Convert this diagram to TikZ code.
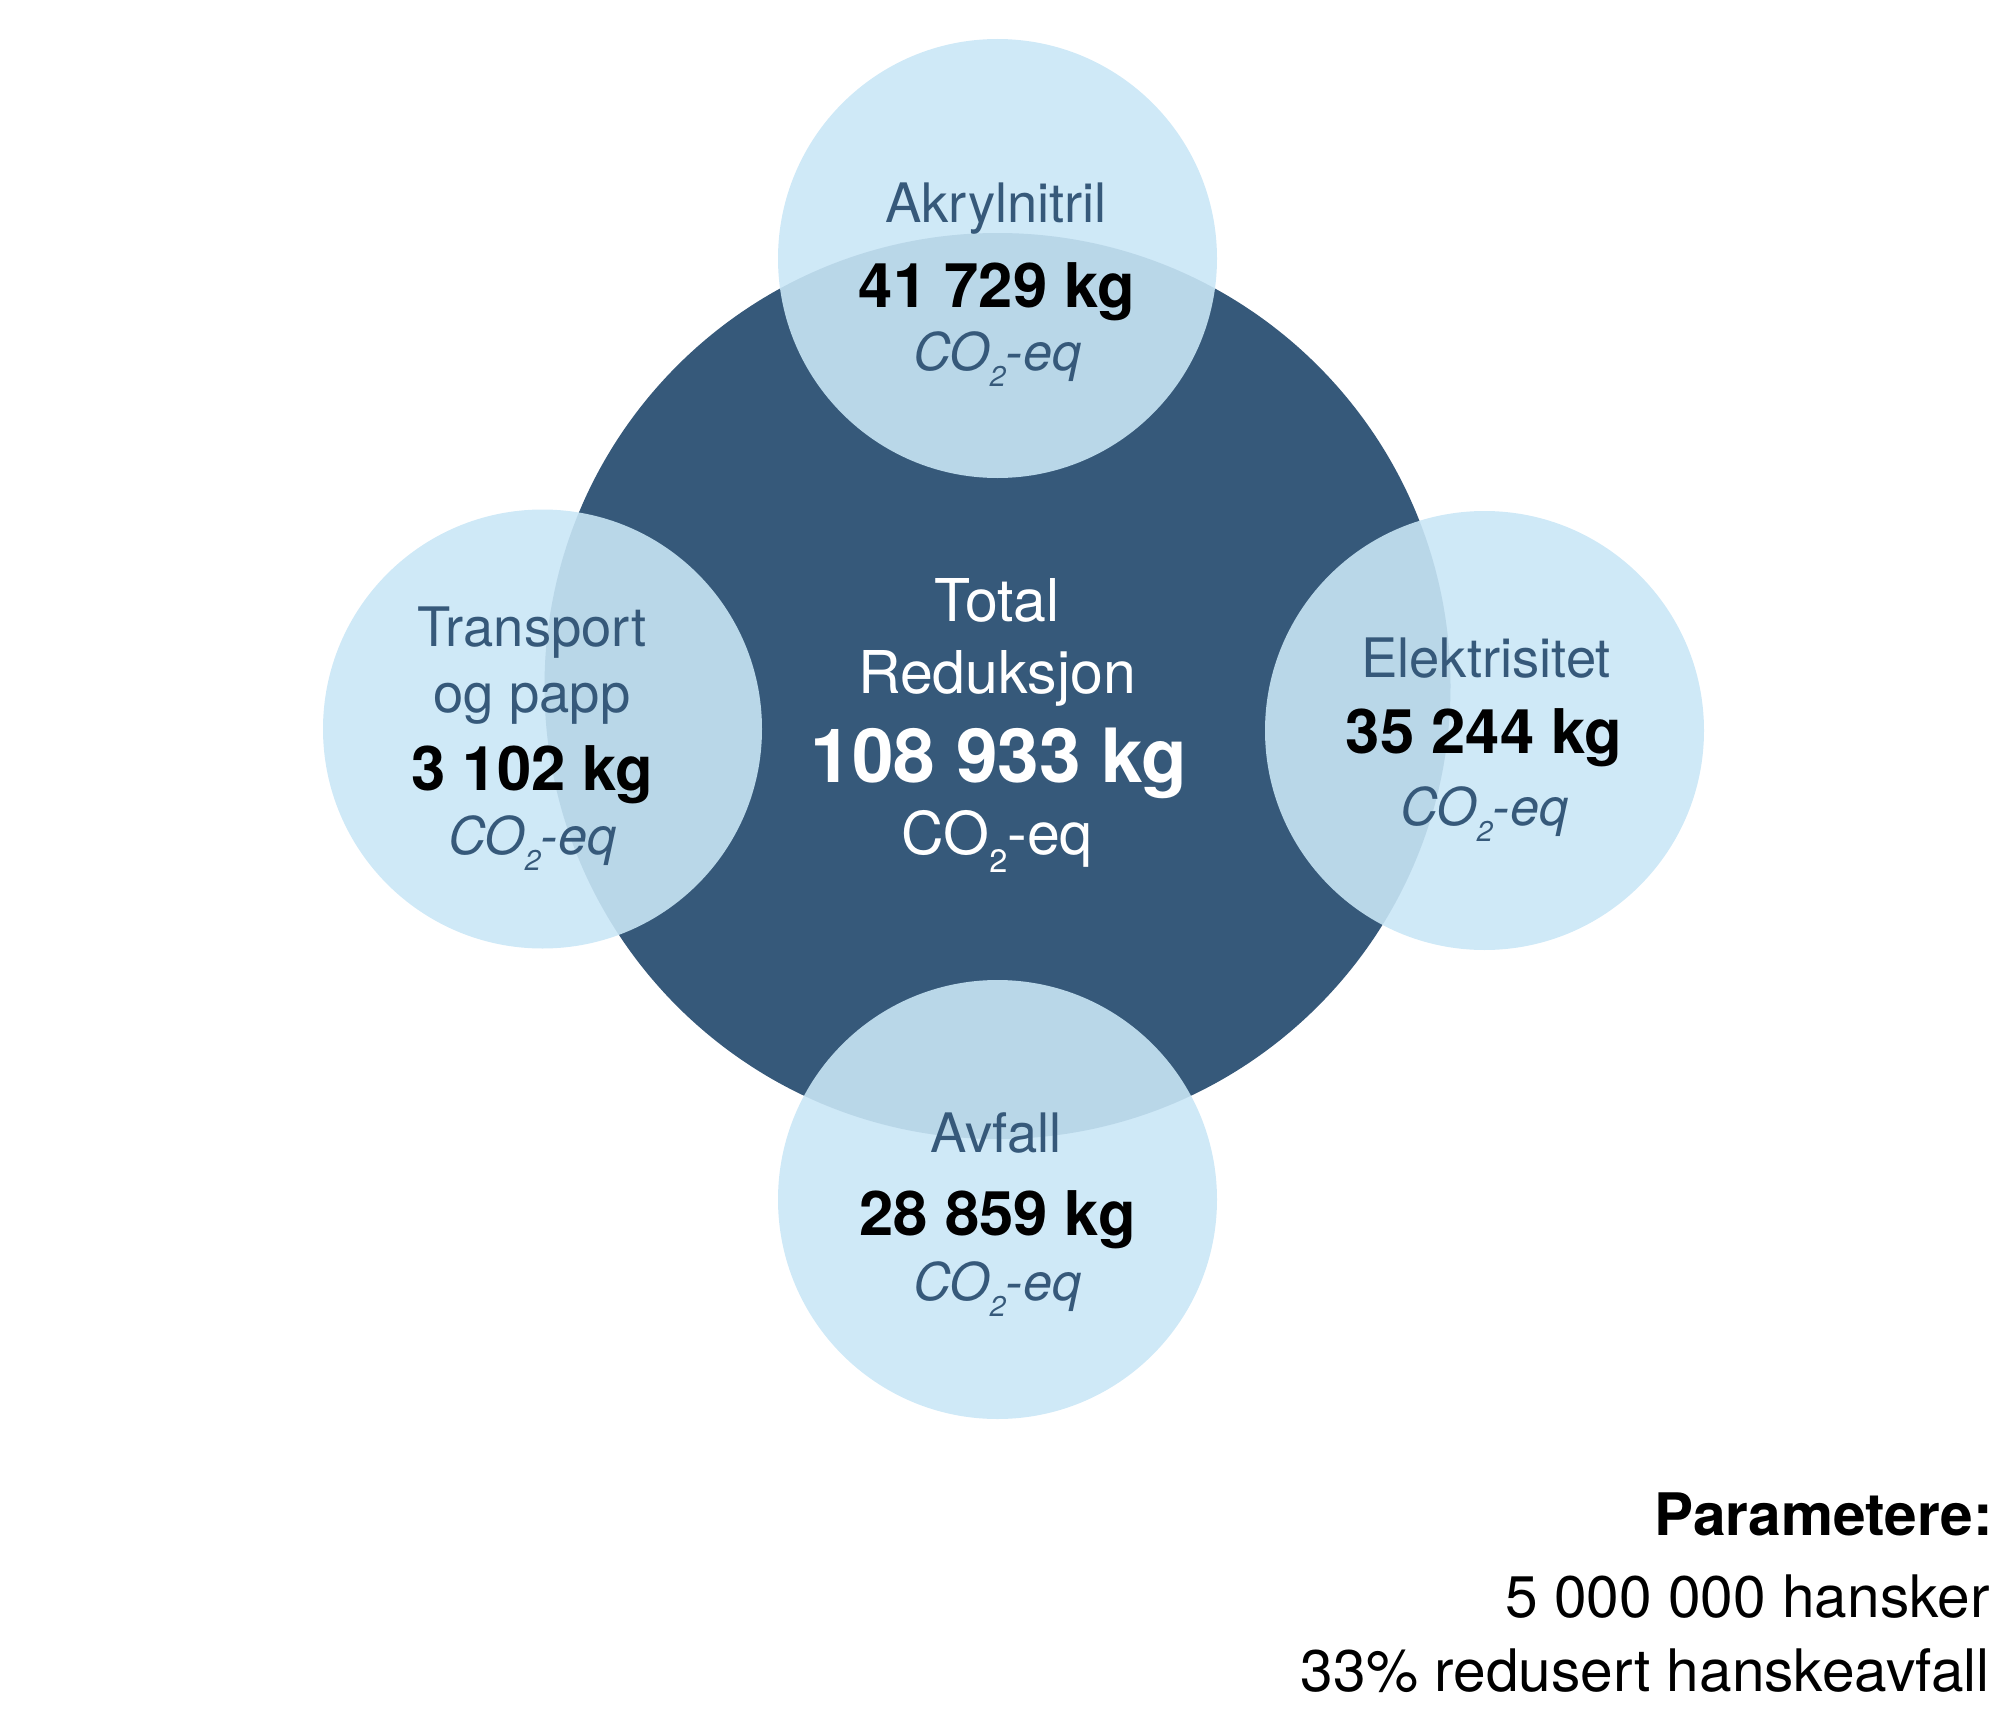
\documentclass[tikz,border=0pt]{standalone}
\usepackage{fontspec}
\setmainfont{TeX Gyre Heros}
\usepackage{graphicx}
\definecolor{darkblue}{RGB}{54,89,122}
\definecolor{lightblue}{RGB}{201,230,246}
\newcommand{\cotwo}{CO\raisebox{-0.32em}{\scalebox{0.55}{2}}-eq}
\begin{document}
\begin{tikzpicture}[x=0.5pt,y=-0.5pt,
  bigcirc/.style={circle, fill=darkblue, inner sep=0pt, minimum size=453pt},
  smallcirc/.style={circle, fill=lightblue, fill opacity=0.895, inner sep=0pt, minimum size=219.5pt},
  lbl/.style={anchor=base, text=darkblue, font=\fontsize{27.2}{32}\selectfont, inner sep=0pt},
  num/.style={anchor=base, text=black, font=\fontsize{30.8}{36}\selectfont\bfseries, inner sep=0pt},
  unitlbl/.style={anchor=base, text=darkblue, font=\fontsize{26}{31}\selectfont\itshape, inner sep=0pt},
  ctr/.style={anchor=base, text=white, font=\fontsize{29.5}{35}\selectfont, inner sep=0pt},
  ctrnum/.style={anchor=base, text=white, font=\fontsize{37.4}{44}\selectfont\bfseries, inner sep=0pt},
  param/.style={anchor=base east, text=black, font=\fontsize{29.3}{35}\selectfont, inner sep=0pt}]
\path[use as bounding box] (0,0) rectangle (2014,1723);
% circles
\node[bigcirc] (total) at (997.5,686) {};
\node[smallcirc] (akryl) at (997.5,258.5) {};
\node[smallcirc] (transp) at (542.5,729) {};
\node[smallcirc] (elek) at (1484.5,730.5) {};
\node[smallcirc] (avfall) at (997.5,1199.5) {};
% centre text
\node[ctr] (t1) at (997,621) {Total};
\node[ctr] (t2) at (997,693) {Reduksjon};
\node[ctrnum] (t3) at (999,782) {108 933 kg};
\node[ctr] (t4) at (997,854) {\cotwo};
% Akrylnitril
\node[lbl] (a1) at (996,222) {Akrylnitril};
\node[num] (a2) at (997,307) {41 729 kg};
\node[unitlbl] (a3) at (997,370) {\cotwo};
% Transport
\node[lbl] (p1) at (532,646) {Transport};
\node[lbl] (p2) at (532,712) {og papp};
\node[num] (p3) at (532.5,790) {3 102 kg};
\node[unitlbl] (p4) at (532,854) {\cotwo};
% Elektrisitet
\node[lbl] (e1) at (1486,677) {Elektrisitet};
\node[num] (e2) at (1484,753) {35 244 kg};
\node[unitlbl] (e3) at (1484,825) {\cotwo};
% Avfall
\node[lbl] (f1) at (996,1152) {Avfall};
\node[num] (f2) at (997.5,1235) {28 859 kg};
\node[unitlbl] (f3) at (997,1300) {\cotwo};
% parameters
\node[param, font=\fontsize{29.3}{35}\selectfont\bfseries] (q1) at (1993,1535) {Parametere:};
\node[param] (q2) at (1990,1617) {5 000 000 hansker};
\node[param] (q3) at (1990,1691) {33\% redusert hanskeavfall};
\end{tikzpicture}
\end{document}
